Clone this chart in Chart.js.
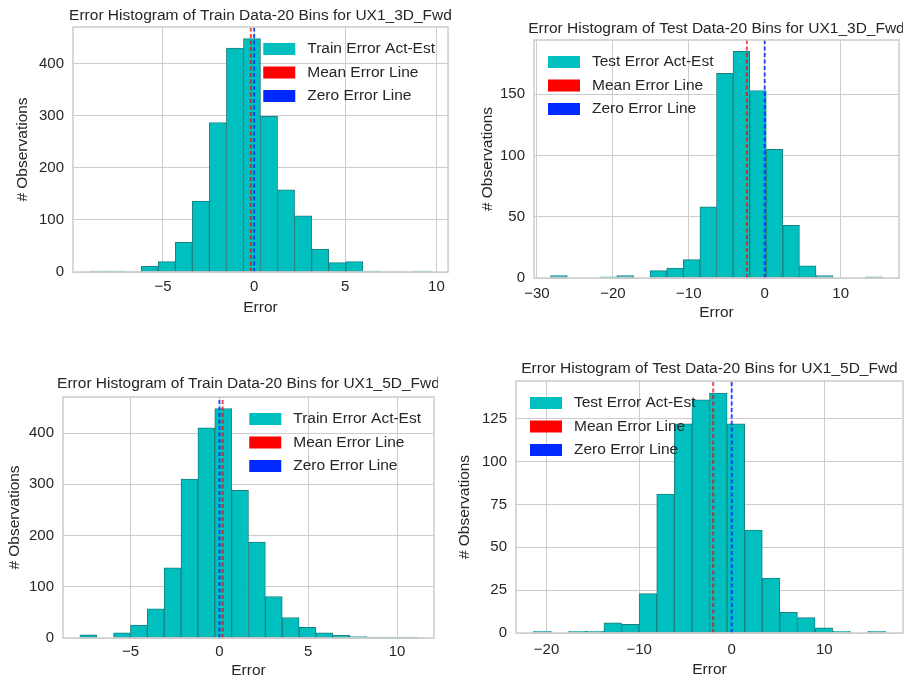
<!DOCTYPE html>
<html lang="en">
<head>
<meta charset="utf-8">
<title>Error Histograms</title>
<style>
    body { margin: 0; background: #fff; width: 906px; height: 682px; overflow: hidden; position: relative; }
    canvas { position: absolute; }
</style>
</head>
<body>
<canvas id="chartTrain3d"></canvas>
<canvas id="chartTest3d"></canvas>
<canvas id="chartTrain5d"></canvas>
<canvas id="chartTest5d"></canvas>
<script src="https://cdn.jsdelivr.net/npm/chart.js@4"></script>
<script>
    // values: bin range [first edge, last edge] and 20 counts each
    const train3dRange = [-9.0, 9.7];
    const train3dCounts = [2, 2, 1, 11, 20, 57, 136, 287, 430, 448, 299, 158, 108, 44, 18, 20, 2, 1, 1, 2];
    const train3dMean = -0.18;

    const test3dRange = [-28.2, 15.5];
    const test3dCounts = [2, 0, 0, 1, 2, 0, 6, 8, 15, 58, 167, 185, 153, 105, 43, 10, 2, 0, 0, 1];
    const test3dMean = -2.35;

    const train5dRange = [-7.86, 11.13];
    const train5dCounts = [6, 0, 10, 25, 57, 137, 310, 410, 448, 288, 187, 81, 40, 21, 10, 5, 3, 2, 2, 2];
    const train5dMean = 0.18;

    const test5dRange = [-21.4, 16.6];
    const test5dCounts = [1, 0, 1, 1, 6, 5, 23, 81, 122, 136, 140, 122, 60, 32, 12, 9, 3, 1, 0, 1];
    const test5dMean = -2.0;

    const titles = [
        'Error Histogram of Train Data-20 Bins for UX1_3D_Fwd',
        'Error Histogram of Test Data-20 Bins for UX1_3D_Fwd',
        'Error Histogram of Train Data-20 Bins for UX1_5D_Fwd',
        'Error Histogram of Test Data-20 Bins for UX1_5D_Fwd'
    ];
    const histLabels = ['Train Error Act-Est', 'Test Error Act-Est', 'Train Error Act-Est', 'Test Error Act-Est'];
    const meanLabel = 'Mean Error Line';
    const zeroLabel = 'Zero Error Line';
    const xTitle = 'Error';
    const yTitle = '# Observations';

    const FONT = "'Liberation Sans', Arial, sans-serif";
    const TEXT = '#262626';
    const GRID = '#cccccc';
    const BAR = '#00bfbf';
    const BAR_EDGE = '#1a8080';
    const RED = 'rgba(255, 0, 0, 0.72)';
    const BLUE = 'rgba(0, 40, 255, 0.8)';

    Chart.defaults.font.family = FONT;
    Chart.defaults.color = TEXT;

    const panels = [
        { id: 'chartTrain3d', range: train3dRange, counts: train3dCounts, mean: train3dMean, xStep: 5, yStep: 100, legend: 'right' },
        { id: 'chartTest3d', range: test3dRange, counts: test3dCounts, mean: test3dMean, xStep: 10, yStep: 50, legend: 'left' },
        { id: 'chartTrain5d', range: train5dRange, counts: train5dCounts, mean: train5dMean, xStep: 5, yStep: 100, legend: 'right' },
        { id: 'chartTest5d', range: test5dRange, counts: test5dCounts, mean: test5dMean, xStep: 10, yStep: 25, legend: 'left' }
    ];

    // where each plot area sits on the page
    const boxes = [
        { L: 73, T: 27, R: 448, B: 272, titleY: 16, yLabelX: 23, xTickY: 287, xLabelY: 308 },
        { L: 534, T: 40, R: 899, B: 278, titleY: 29, yLabelX: 488, xTickY: 294, xLabelY: 313 },
        { L: 63, T: 397, R: 434, B: 638, titleY: 384, yLabelX: 15, xTickY: 652, xLabelY: 671 },
        { L: 516, T: 381, R: 903, B: 633, titleY: 369, yLabelX: 465, xTickY: 650, xLabelY: 670 }
    ];

    const minus = v => (v < 0 ? '\u2212' + Math.abs(v) : String(v));

    function drawHistogram(i) {
        const panel = panels[i];
        const box = boxes[i];
        const canvas = document.getElementById(panel.id);

        const left = Math.floor(box.yLabelX - 12);
        const top = Math.floor(box.titleY - 12);
        const right = Math.min(906, box.R + 4);
        const bottom = Math.ceil(box.xLabelY + 12);
        canvas.style.left = left + 'px';
        canvas.style.top = top + 'px';
        canvas.width = right - left;
        canvas.height = bottom - top;

        const [lo, hi] = panel.range;
        const binW = (hi - lo) / panel.counts.length;
        const bars = panel.counts.map((c, k) => ({ x: lo + binW * (k + 0.5), y: c }));
        const margin = 0.05 * (hi - lo);
        const yMax = Math.max(...panel.counts) * 1.05;

        // frame, title and legend the matplotlib way
        const overlay = {
            id: 'overlay' + i,
            afterDatasetsDraw(chart) {
                const ca = chart.chartArea;
                const ctx = chart.ctx;
                ctx.save();
                ctx.strokeStyle = GRID;
                ctx.lineWidth = 1.5;
                ctx.strokeRect(ca.left, ca.top, ca.width, ca.height);
                ctx.restore();
            },
            afterDraw(chart) {
                const ca = chart.chartArea;
                const ctx = chart.ctx;
                ctx.save();
                ctx.font = '15.5px ' + FONT;
                ctx.fillStyle = TEXT;
                ctx.textBaseline = 'middle';
                ctx.textAlign = 'center';
                ctx.fillText(titles[i], (ca.left + ca.right) / 2, box.titleY - top);

                const items = [[histLabels[i], BAR], [meanLabel, '#ff0000'], [zeroLabel, '#0028ff']];
                const textW = Math.max(...items.map(it => ctx.measureText(it[0]).width));
                const x0 = panel.legend === 'right' ? ca.right - 13 - 44 - textW : ca.left + 14;
                ctx.textAlign = 'left';
                items.forEach(([label, color], k) => {
                    const y = ca.top + 22 + k * 23.5;
                    ctx.fillStyle = color;
                    ctx.fillRect(x0, y - 6, 32, 12);
                    ctx.fillStyle = TEXT;
                    ctx.fillText(label, x0 + 44, y);
                });
                ctx.restore();
            }
        };

        new Chart(canvas, {
            type: 'bar',
            data: {
                datasets: [
                    {
                        type: 'line',
                        data: [{ x: panel.mean, y: 0 }, { x: panel.mean, y: yMax }],
                        borderColor: RED,
                        borderWidth: 2,
                        borderDash: [4, 2.5],
                        pointRadius: 0,
                        order: 0
                    },
                    {
                        type: 'line',
                        data: [{ x: 0, y: 0 }, { x: 0, y: yMax }],
                        borderColor: BLUE,
                        borderWidth: 2,
                        borderDash: [4, 2.5],
                        pointRadius: 0,
                        order: 1
                    },
                    {
                        data: bars,
                        backgroundColor: BAR,
                        borderColor: BAR_EDGE,
                        borderWidth: 1,
                        borderSkipped: false,
                        barPercentage: 1,
                        categoryPercentage: 1,
                        order: 2
                    }
                ]
            },
            options: {
                responsive: false,
                animation: false,
                events: [],
                layout: {
                    autoPadding: false,
                    padding: { top: box.T - top, right: right - box.R, left: 0, bottom: 0 }
                },
                plugins: {
                    legend: { display: false },
                    tooltip: { enabled: false },
                    title: { display: false }
                },
                scales: {
                    x: {
                        type: 'linear',
                        min: lo - margin,
                        max: hi + margin,
                        offset: false,
                        grid: { color: GRID, drawTicks: false, offset: false, lineWidth: 1 },
                        border: { display: false },
                        ticks: {
                            stepSize: panel.xStep,
                            includeBounds: false,
                            padding: box.xTickY - box.B - 9,
                            font: { size: 15 },
                            color: TEXT,
                            maxRotation: 0,
                            callback: minus
                        },
                        title: {
                            display: true,
                            text: xTitle,
                            color: TEXT,
                            font: { size: 15.5 },
                            padding: { top: 0, bottom: bottom - box.xLabelY - 9.3 }
                        },
                        afterFit: scale => { scale.height = bottom - box.B; }
                    },
                    y: {
                        min: 0,
                        max: yMax,
                        grid: { color: GRID, drawTicks: false, lineWidth: 1 },
                        border: { display: false },
                        ticks: {
                            stepSize: panel.yStep,
                            includeBounds: false,
                            padding: 9,
                            font: { size: 15 },
                            color: TEXT
                        },
                        title: {
                            display: true,
                            text: yTitle,
                            color: TEXT,
                            font: { size: 15.5 },
                            padding: { top: box.yLabelX - left - 9.3, bottom: 0 }
                        },
                        afterFit: scale => { scale.width = box.L - left; }
                    }
                }
            },
            plugins: [overlay]
        });
    }

    panels.forEach((p, i) => drawHistogram(i));
</script>
</body>
</html>
